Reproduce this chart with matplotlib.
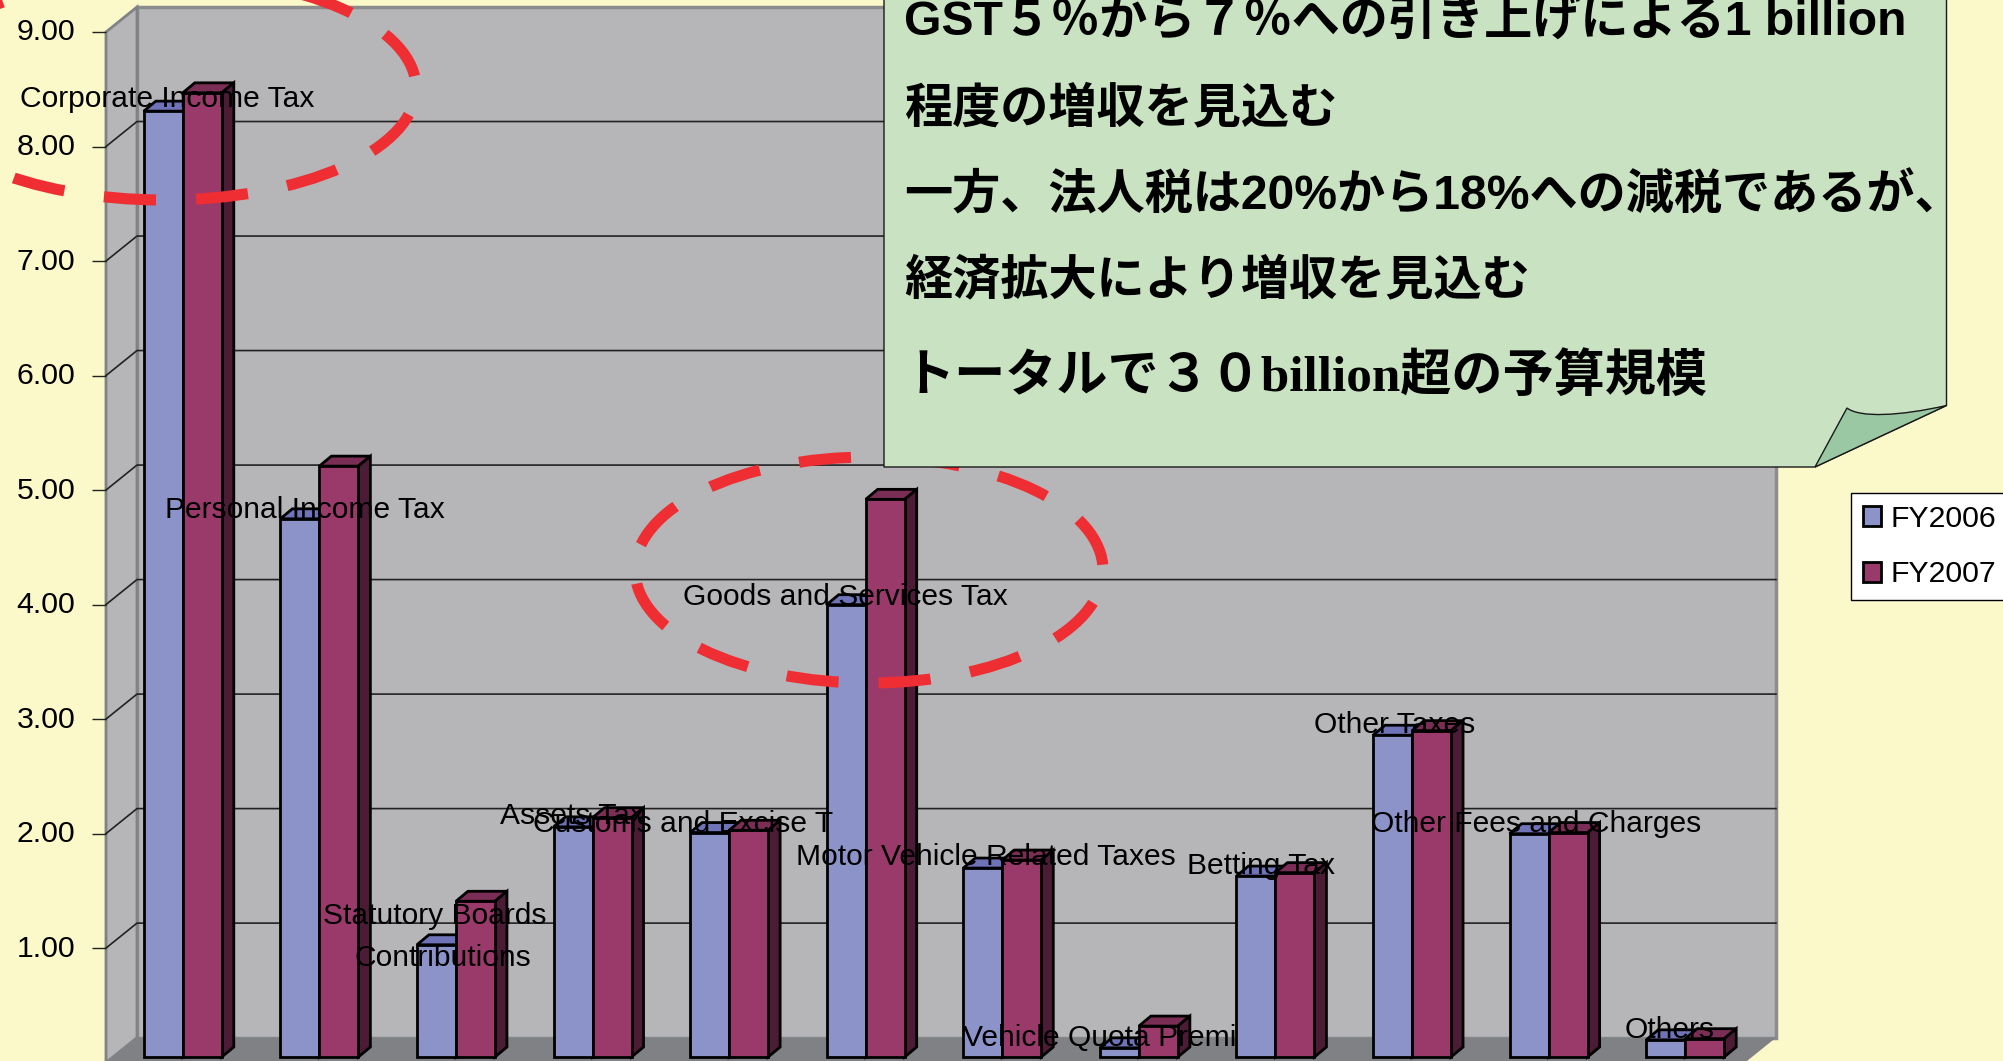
import numpy as np
import matplotlib
matplotlib.use("Agg")
import matplotlib.pyplot as plt
from matplotlib.patches import Polygon, Ellipse, PathPatch
from matplotlib.path import Path
from matplotlib.transforms import ScaledTranslation

# values
categories = ["Corporate Income Tax", "Personal Income Tax", "Statutory Boards Contributions",
              "Assets Tax", "Customs and Excise Taxes", "Goods and Services Tax",
              "Motor Vehicle Related Taxes", "Vehicle Quota Premiums", "Betting Tax",
              "Other Taxes", "Other Fees and Charges", "Others"]
fy2006 = [8.26, 4.70, 0.98, 2.01, 1.96, 3.95, 1.65, 0.08, 1.58, 2.81, 1.95, 0.15]
fy2007 = [8.42, 5.16, 1.36, 2.09, 1.98, 4.87, 1.72, 0.27, 1.61, 2.85, 1.96, 0.16]
y_ticks = [1, 2, 3, 4, 5, 6, 7, 8, 9]

# text actually visible on the data labels, some are cut off in the picture
data_labels = ["Corporate Income Tax", "Personal Income Tax", "Statutory Boards", "Contributions",
               "Assets Tax", "Customs and Excise T", "Goods and Services Tax",
               "Motor Vehicle Related Taxes", "Vehicle Quota Premi", "Betting Tax",
               "Other Taxes", "Other Fees and Charges", "Others"]
label_px = [(20, 107), (165, 518), (323, 924), (354, 966), (500, 824), (533, 832), (683, 605),
            (796, 865), (963, 1046), (1187, 874), (1314, 733), (1371, 832), (1625, 1038)]

note_lines = ["GST５％から７％への引き上げによる1 billion",
              "程度の増収を見込む",
              "一方、法人税は20%から18%への減税であるが、",
              "経済拡大により増収を見込む",
              "トータルで３０billion超の予算規模"]
note_y = [23, 110, 196, 281, 377]

W, H = 2003, 1061
BG = "#FBF8CA"
SANS = ["Liberation Sans", "Noto Sans CJK JP"]

# geometry of the fake 3d, in pixels
PX_X = 136.6
PX_Y = 114.6
wall_dx, wall_dy = 31 / PX_X, 25 / PX_Y
bar_dx, bar_dy = 8.5 / PX_X, 5.6 / PX_Y
side_dx, side_dy = 12 / PX_X, 10 / PX_Y
bar_w = 39 / PX_X

fig = plt.figure(figsize=(W / 100, H / 100), dpi=100, facecolor=BG)
ax = fig.add_axes([106 / W, (H - 1062.6) / H, 1639 / W, 1030.6 / H], facecolor="none")
ax.set_xlim(0, 12)
ax.set_ylim(0, 9)
for s in ax.spines.values():
    s.set_visible(False)
ax.set_xticks([])
ax.set_yticks(y_ticks)
ax.set_yticklabels(["%.2f" % v for v in y_ticks], fontsize=21.8, family=SANS)
ax.tick_params(axis="y", length=10, width=1, pad=12, color="#222222")
for lab in ax.get_yticklabels():
    lab.set_transform(lab.get_transform() + ScaledTranslation(0, 2.5 / 100, fig.dpi_scale_trans))

# walls and floor
wall = "#B6B6B8"
ax.add_patch(Polygon([(wall_dx, wall_dy), (12 + wall_dx, wall_dy), (12 + wall_dx, 9 + wall_dy), (wall_dx, 9 + wall_dy)],
                     fc=wall, ec="#8A8C8E", lw=2.5, clip_on=False, zorder=1))
ax.add_patch(Polygon([(0, 0), (wall_dx, wall_dy), (wall_dx, 9 + wall_dy), (0, 9)],
                     fc=wall, ec="#808285", lw=2, clip_on=False, zorder=1))
ax.add_patch(Polygon([(0, 0), (12, 0), (12 + wall_dx, wall_dy), (wall_dx, wall_dy)],
                     fc="#808184", ec="none", clip_on=False, zorder=1.1))
for v in y_ticks[:-1]:
    ax.plot([0, wall_dx, 12 + wall_dx], [v, v + wall_dy, v + wall_dy], color="#222222", lw=1.2,
            clip_on=False, zorder=1.5)

# bars
x = np.arange(len(categories)) + 0.5 + bar_dx
bars06 = ax.bar(x - bar_w / 2, fy2006, bar_w, bottom=bar_dy, color="#8C93C8", edgecolor="black",
                linewidth=2, clip_on=False, zorder=3, label="FY2006")
bars07 = ax.bar(x + bar_w / 2, fy2007, bar_w, bottom=bar_dy, color="#993A6B", edgecolor="black",
                linewidth=2, clip_on=False, zorder=3, label="FY2007")
for bars, top_col, side_col in [(bars06, "#6F74B8", "#4C1C36"), (bars07, "#7A2E55", "#4C1C36")]:
    for b in bars:
        x0, y0 = b.get_x(), b.get_y()
        x1, y1 = x0 + b.get_width(), y0 + b.get_height()
        ax.add_patch(Polygon([(x0, y1), (x1, y1), (x1 + side_dx, y1 + side_dy), (x0 + side_dx, y1 + side_dy)],
                             fc=top_col, ec="black", lw=2, clip_on=False, zorder=2.5))
        ax.add_patch(Polygon([(x1, y0), (x1, y1), (x1 + side_dx, y1 + side_dy), (x1 + side_dx, y0 + side_dy)],
                             fc=side_col, ec="black", lw=2, clip_on=False, zorder=2.5))

leg = ax.legend(handles=[bars06, bars07], loc="upper left", bbox_to_anchor=(1851 / W, 1 - 493 / H),
                bbox_transform=fig.transFigure, frameon=True, fancybox=False,
                framealpha=1, edgecolor="black", facecolor="white", handlelength=0.62, handleheight=0.62,
                handletextpad=0.3, labelspacing=0.92, borderpad=0.38, borderaxespad=0,
                prop={"family": SANS, "size": 21.8})
leg.get_frame().set_linewidth(1)
leg.set_zorder(6)

# overlay in pixels for the labels, the circles and the note
ov = fig.add_axes([0, 0, 1, 1], facecolor="none")
ov.set_xlim(0, W)
ov.set_ylim(H, 0)
ov.axis("off")

for t, (px, py) in zip(data_labels, label_px):
    ov.text(px, py, t, fontsize=21.6, family=SANS, color="black", ha="left", va="baseline", zorder=4)

red = "#EE2E33"
for cx, cy, a, b, off in [(164, 88, 252, 112, 4.0), (869, 570, 234, 113, 4.8)]:
    ov.add_patch(Ellipse((cx, cy), 2 * a, 2 * b, fill=False, ec=red, lw=8, ls=(off, (4.7, 3.6)), zorder=5))

# note with folded corner
L, R, B = 884, 1946.5, 467
verts = [(L, -5), (R, -5), (R, 405.5), (1815, B), (L, B), (L, -5)]
ov.add_patch(Polygon(verts, closed=True, fc="#C8E2C2", ec="#1a1a1a", lw=1, zorder=7))
fold = Path([(1815, B), (1847, 408), (1860, 418), (1900, 416), (R, 405.5), (1815, B)],
            [Path.MOVETO, Path.LINETO, Path.CURVE4, Path.CURVE4, Path.CURVE4, Path.CLOSEPOLY])
ov.add_patch(PathPatch(fold, fc="#9AC8A3", ec="#1a1a1a", lw=1, zorder=7.5))

for i, (t, ny) in enumerate(zip(note_lines, note_y)):
    fam = ["Liberation Serif", "Noto Sans CJK JP"] if i == 4 else SANS
    size = 36.8 if i == 4 else 34.7
    ov.text(904, ny, t, fontsize=size, family=fam, weight="bold", color="black", ha="left", va="center", zorder=8)

fig.savefig("out.png", dpi=100, facecolor=BG)
